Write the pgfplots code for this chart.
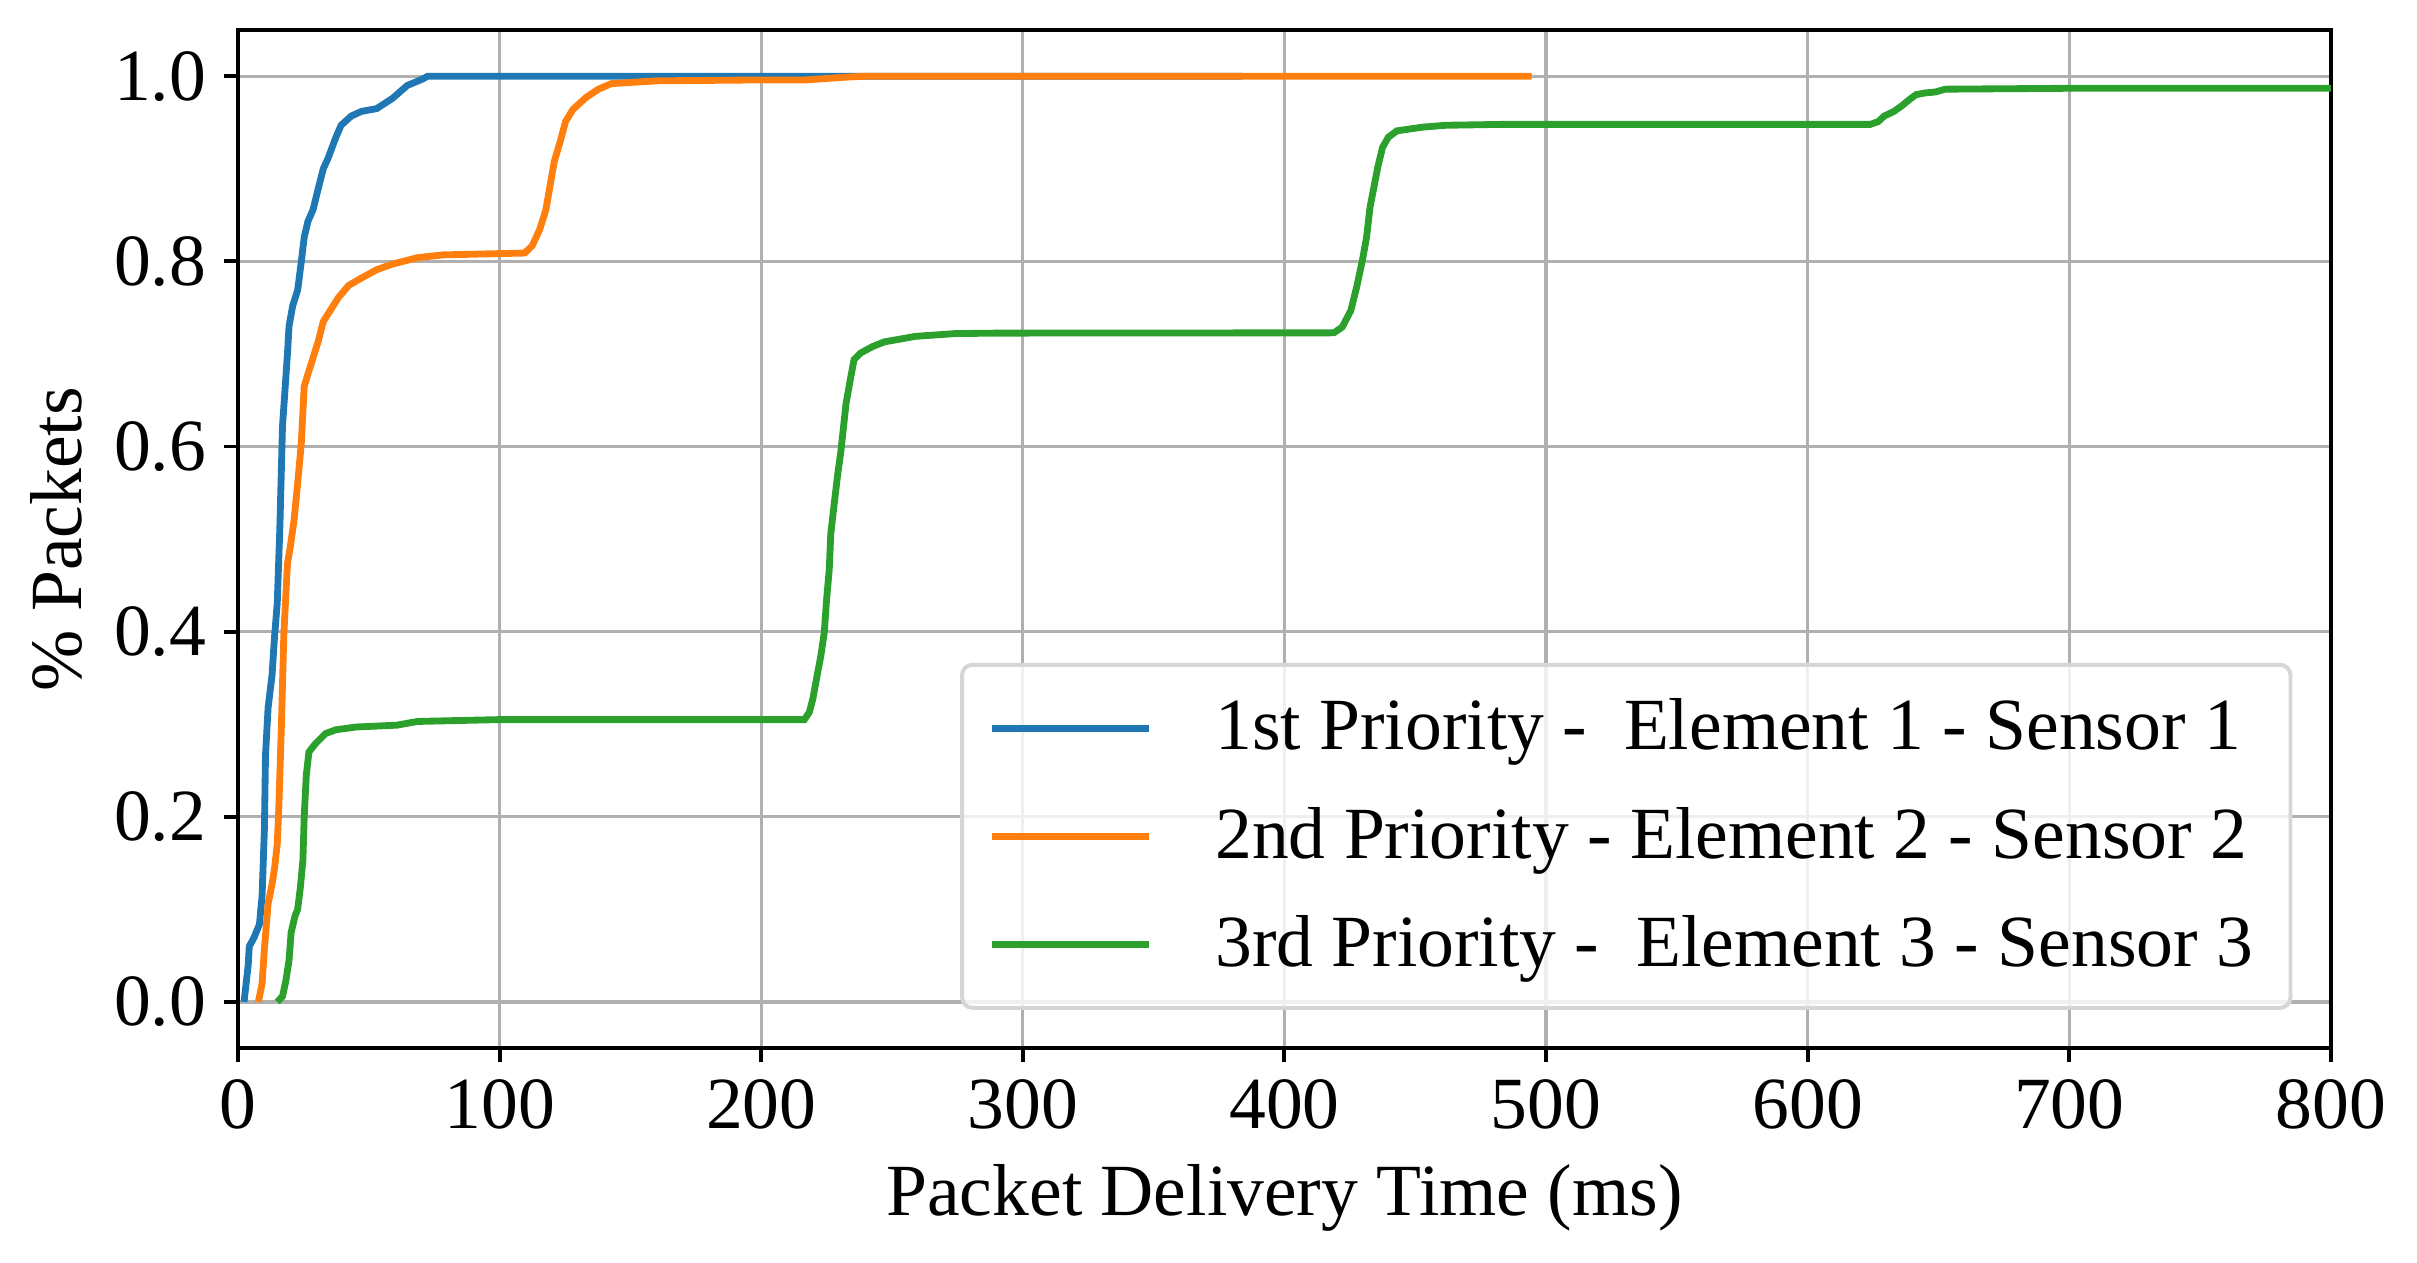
\documentclass[border=0pt]{standalone}
\usepackage{fontspec}
\setmainfont{Liberation Serif}
\usepackage{pgfplots}
\pgfplotsset{compat=1.18}
\definecolor{tabblue}{HTML}{1F77B4}
\definecolor{taborange}{HTML}{FF7F0E}
\definecolor{tabgreen}{HTML}{2CA02C}
\definecolor{gridgray}{HTML}{B0B0B0}
\definecolor{legendedge}{HTML}{D6D6D6}
\begin{document}
\fontsize{14}{16.8}\selectfont
\begin{tikzpicture}
\begin{axis}[
  name=ax,
  scale only axis,
  width=398.3pt, height=193.8pt,
  xmin=0, xmax=800, ymin=-0.05, ymax=1.05,
  xtick={0,100,...,800},
  ytick={0,0.2,0.4,0.6,0.8,1.0},
  yticklabel style={anchor=east, inner sep=0pt, /pgf/number format/.cd, fixed, fixed zerofill, precision=1},
  /pgf/number format/assume math mode=true,
  tick label style={font=\fontsize{14}{16.8}\selectfont},
  label style={font=\fontsize{14}{16.8}\selectfont},
  tick pos=left,
  tick align=outside,
  major tick length=2.7pt,
  every tick/.style={black, line width=0.75pt},
  axis line style={line width=0.75pt},
  grid=major,
  major grid style={gridgray, line width=0.63pt},
  xticklabel style={anchor=north, inner sep=0pt},
  yticklabel shift=3.2pt,
  xticklabel shift=3.0pt,
  xlabel={Packet Delivery Time (ms)},
  ylabel={\% Packets},
  xlabel style={at={(axis description cs:0.5,0)}, anchor=base, yshift=-31.8pt},
  ylabel style={at={(axis description cs:-0.07457,0.5)}, anchor=base},
  clip=true,
  legend cell align=left,
  legend image code/.code={\draw[#1] (0pt,0pt) -- (29.8pt,0pt);},
  legend style={
    at={(axis description cs:1,0)}, anchor=south east,
    xshift=-7.3pt, yshift=7.3pt,
    draw=legendedge, line width=0.75pt, rounded corners=2pt,
    fill=white, fill opacity=0.8, text opacity=1,
    inner xsep=5.1pt, inner ysep=3.4pt,
    row sep=3.3pt, column sep=10pt,
    font=\fontsize{14}{16.8}\selectfont,
    nodes={inner sep=2pt, text height=10.8pt, text depth=2.5pt},
  },
]
\addplot[tabblue, line width=1.3pt] coordinates {
(2.3,0) (3.9,0.04) (4.3,0.06) (6.2,0.07) (8.2,0.084) (9.2,0.115) (10.1,0.188)
(10.5,0.266) (11.5,0.318) (13,0.353) (14,0.396) (15,0.431) (16,0.513) (17,0.622)
(18.9,0.70) (19.5,0.73) (20.9,0.752) (22.8,0.769) (24.2,0.80) (25.3,0.826)
(26.7,0.843) (28.7,0.856) (30.6,0.878) (32.6,0.90) (34.5,0.912) (37.4,0.934)
(39.4,0.947) (43.3,0.957) (47.2,0.962) (53,0.965) (59,0.976) (64.7,0.99)
(70.6,0.997) (72.5,1.0) (383.8,1.0)
};
\addlegendentry{1st Priority -\ \ Element 1 - Sensor 1}
\addplot[taborange, line width=1.3pt] coordinates {
(7.8,0) (9.2,0.02) (10.1,0.058) (11.5,0.106) (13,0.127) (14,0.145) (15,0.171)
(15.6,0.21) (16.6,0.30) (17.5,0.396) (18.9,0.474) (19.9,0.49) (21.4,0.52)
(22.8,0.56) (24.2,0.604) (25.3,0.665) (26.7,0.678) (28.7,0.696) (30.6,0.713)
(32.6,0.735) (35.5,0.748) (38.4,0.761) (42.3,0.774) (47.2,0.782) (53,0.791)
(59,0.797) (68.6,0.804) (78.4,0.807) (109.6,0.809) (112.5,0.817) (115.4,0.835)
(117.7,0.856) (119.3,0.882) (120.9,0.908) (123.2,0.93) (125.2,0.951) (128,0.964)
(133,0.977) (137.8,0.986) (142.7,0.992) (160,0.995) (200,0.996) (217,0.996)
(232.5,0.999) (240,1.0) (494.5,1.0)
};
\addlegendentry{2nd Priority - Element 2 - Sensor 2}
\addplot[tabgreen, line width=1.3pt] coordinates {
(15,0) (17,0.006) (18.3,0.023) (19.5,0.045) (20.3,0.075) (21.8,0.093) (22.8,0.10)
(23.8,0.123) (24.8,0.153) (25.3,0.20) (26.1,0.245) (27.1,0.27) (29.6,0.279)
(33.5,0.29) (37.4,0.294) (45.2,0.297) (60.8,0.299) (68.6,0.303) (84.2,0.304)
(100,0.305) (216.5,0.305) (218.4,0.313) (219.7,0.327) (221.6,0.356) (222.8,0.374)
(224.1,0.399) (225,0.435) (226,0.467) (226.6,0.506) (227.9,0.538) (229.2,0.569)
(230.5,0.596) (231.3,0.617) (232.4,0.646) (233.4,0.662) (234.3,0.676) (235.5,0.694)
(238,0.701) (242.6,0.708) (247,0.713) (259,0.719) (274.2,0.722) (290.7,0.7225)
(418.9,0.7228) (422.1,0.729) (425.4,0.747) (427.6,0.772) (429.8,0.801) (431.4,0.826)
(432.7,0.858) (434.2,0.88) (435.7,0.902) (437.5,0.923) (439.7,0.934) (443,0.941)
(452.9,0.945) (461.6,0.947) (483.6,0.948) (624,0.948) (627,0.951) (629.3,0.957)
(633,0.962) (636,0.968) (639,0.975) (641.4,0.98) (645,0.982) (648.9,0.983)
(652.6,0.986) (702,0.987) (820,0.987)
};
\addlegendentry{3rd Priority -\ \ Element 3 - Sensor 3}
\end{axis}
\pgfresetboundingbox
\path[use as bounding box] (-45.3pt,-40.7pt) rectangle (414.7pt,199.5pt);
\end{tikzpicture}
\end{document}
